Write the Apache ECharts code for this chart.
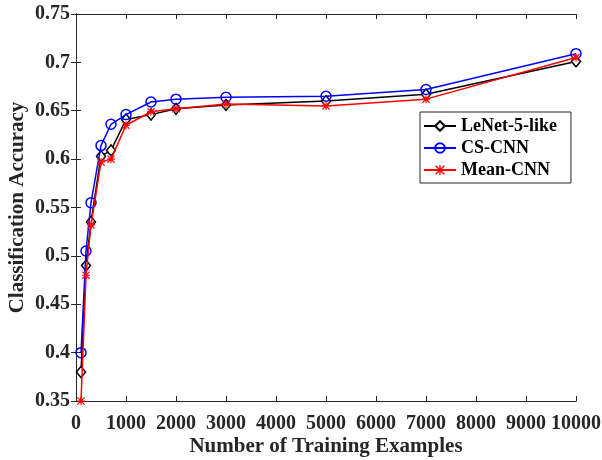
<!DOCTYPE html>
<html>
<head>
<meta charset="utf-8">
<script src="https://cdn.jsdelivr.net/npm/echarts@6/dist/echarts.min.js"></script>
<style>
  html, body { margin: 0; padding: 0; background: #fff; }
  #chart { width: 602px; height: 460px; }
</style>
</head>
<body>
<div id="chart"></div>
<script>
// training set sizes
const examples = [100, 200, 300, 500, 700, 1000, 1500, 2000, 3000, 5000, 7000, 10000]
// accuracy per model
const lenet = [0.38, 0.49, 0.535, 0.603, 0.609, 0.641, 0.646, 0.652, 0.656, 0.66, 0.667, 0.701]
const csCnn = [0.40, 0.505, 0.555, 0.614, 0.636, 0.646, 0.659, 0.662, 0.664, 0.665, 0.672, 0.709]
const meanCnn = [0.35, 0.48, 0.532, 0.597, 0.6, 0.635, 0.649, 0.652, 0.657, 0.655, 0.662, 0.705]

const font = 'Liberation Serif'
const axisColor = '#262626'

// asterisk marker, built from thin bars
const asterisk = 'path://M-0.8,-5.6L0.8,-5.6L0.8,5.6L-0.8,5.6Z' +
  'M-5.6,-0.8L5.6,-0.8L5.6,0.8L-5.6,0.8Z' +
  'M-4.4,-5.6L5.6,4.4L4.4,5.6L-5.6,-4.4Z' +
  'M4.4,-5.6L5.6,-4.4L-4.4,5.6L-5.6,4.4Z'

function pairs(ys) {
  return examples.map((x, i) => [x, ys[i]])
}

const tickLabel = { fontFamily: font, fontWeight: 'bold', fontSize: 20, color: axisColor }
const nameStyle = { fontFamily: font, fontWeight: 'bold', fontSize: 21, color: axisColor }

const chart = echarts.init(document.getElementById('chart'))
chart.setOption({
  animation: false,
  grid: { left: 76, right: 26, top: 14, bottom: 59, outerBoundsMode: 'none', containLabel: false },
  legend: {
    orient: 'vertical',
    left: 420,
    top: 112,
    itemWidth: 32,
    itemHeight: 12,
    itemGap: 4,
    padding: [5, 14, 4, 3],
    backgroundColor: '#fff',
    borderColor: axisColor,
    borderWidth: 1,
    textStyle: { fontFamily: font, fontWeight: 'bold', fontSize: 18, color: '#000' },
    data: ['LeNet-5-like', 'CS-CNN', 'Mean-CNN'],
  },
  xAxis: [
    {
      type: 'value',
      min: 0,
      max: 10000,
      interval: 1000,
      name: 'Number of Training Examples',
      nameLocation: 'middle',
      nameGap: 35,
      nameMoveOverlap: false,
      nameTextStyle: nameStyle,
      axisLine: { show: true, lineStyle: { color: axisColor, width: 1 } },
      axisTick: { inside: true, length: 5, lineStyle: { color: axisColor } },
      axisLabel: Object.assign({ margin: 13, formatter: (v) => String(v) }, tickLabel),
      splitLine: { show: false },
    },
    {
      type: 'value',
      position: 'top',
      min: 0,
      max: 10000,
      interval: 1000,
      axisLine: { show: true, lineStyle: { color: axisColor, width: 1 } },
      axisTick: { inside: true, length: 5, lineStyle: { color: axisColor } },
      axisLabel: { show: false },
      splitLine: { show: false },
    },
  ],
  yAxis: [
    {
      type: 'value',
      min: 0.35,
      max: 0.75,
      interval: 0.05,
      name: 'Classification Accuracy',
      nameLocation: 'middle',
      nameGap: 48,
      nameMoveOverlap: false,
      nameTextStyle: nameStyle,
      axisLine: { show: true, lineStyle: { color: axisColor, width: 1 } },
      axisTick: { inside: true, length: 5, lineStyle: { color: axisColor } },
      axisLabel: Object.assign({ margin: 6, formatter: (v) => String(+v.toFixed(2)) }, tickLabel),
      splitLine: { show: false },
    },
    {
      type: 'value',
      position: 'right',
      min: 0.35,
      max: 0.75,
      interval: 0.05,
      axisLine: { show: true, lineStyle: { color: axisColor, width: 1 } },
      axisTick: { inside: true, length: 5, lineStyle: { color: axisColor } },
      axisLabel: { show: false },
      splitLine: { show: false },
    },
  ],
  series: [
    {
      name: 'LeNet-5-like',
      type: 'line',
      data: pairs(lenet),
      symbol: 'diamond',
      symbolSize: [9, 11],
      color: '#000',
      lineStyle: { color: '#000', width: 1.5 },
      itemStyle: { color: '#fff', borderColor: '#000', borderWidth: 1.5 },
      z: 3,
    },
    {
      name: 'CS-CNN',
      type: 'line',
      data: pairs(csCnn),
      symbol: 'circle',
      symbolSize: 10,
      color: '#0000ff',
      lineStyle: { color: '#0000ff', width: 1.5 },
      itemStyle: { color: 'rgba(255,255,255,0)', borderColor: '#0000ff', borderWidth: 1.5 },
      z: 4,
    },
    {
      name: 'Mean-CNN',
      type: 'line',
      data: pairs(meanCnn),
      symbol: asterisk,
      symbolSize: 8,
      color: '#ff0000',
      lineStyle: { color: '#ff0000', width: 1.5 },
      itemStyle: { color: '#ff0000', borderWidth: 0 },
      z: 5,
    },
  ],
})
</script>
</body>
</html>
